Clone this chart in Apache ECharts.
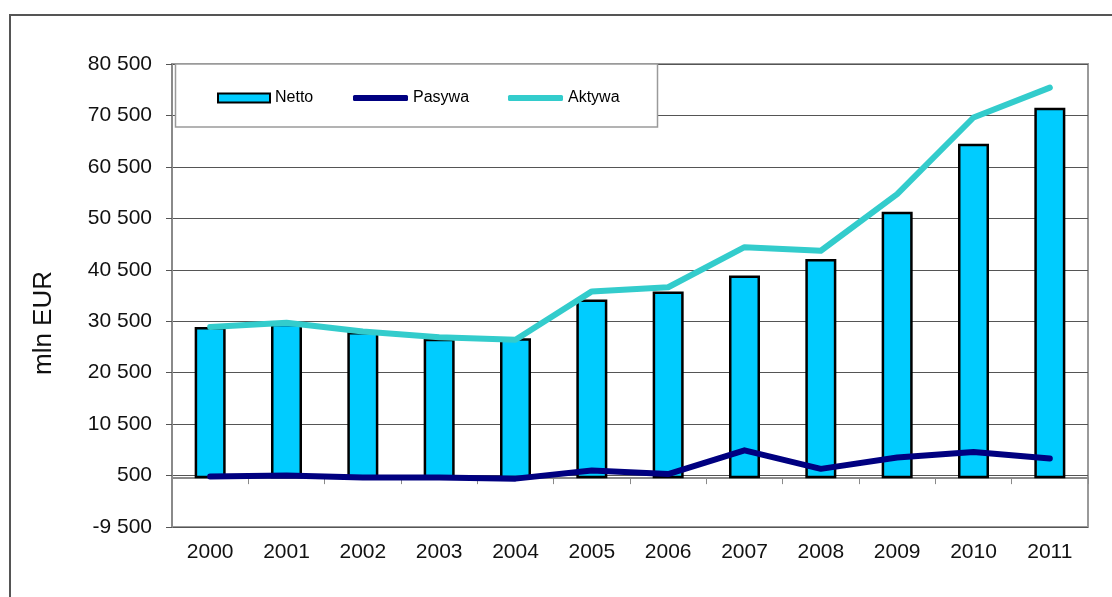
<!DOCTYPE html>
<html>
<head>
<meta charset="utf-8">
<script src="https://cdn.jsdelivr.net/npm/echarts@6/dist/echarts.min.js"></script>
<style>
html,body{margin:0;padding:0;background:#fff;}
#c{width:1112px;height:597px;}
</style>
</head>
<body>
<div id="c"></div>
<script>
const years = ['2000','2001','2002','2003','2004','2005','2006','2007','2008','2009','2010','2011'];
const netto = [29400, 30000, 28400, 27100, 27200, 34700, 36300, 39400, 42600, 51800, 65000, 72000];
const pasywa = [300, 500, 100, 100, -100, 1500, 800, 5400, 1800, 4000, 5100, 3800];
const aktywa = [29400, 30200, 28500, 27400, 26900, 36300, 37100, 44900, 44200, 55200, 70100, 75900];
const yMin = -9500, yMax = 80500, yStep = 10000;

const FONT = '"Liberation Sans", Arial, sans-serif';
function fmt(v){
  const neg = v < 0;
  let s = Math.abs(Math.round(v)).toString();
  s = s.replace(/\B(?=(\d{3})+(?!\d))/g, ' ');
  return (neg ? '-' : '') + s;
}

const chart = echarts.init(document.getElementById('c'), null, {renderer:'canvas'});
const legendText = {fontFamily: FONT, fontSize: 16, color: '#000'};
chart.setOption({
  animation: false,
  backgroundColor: '#fff',
  grid: {left: 172, right: 24, top: 64, bottom: 70, show: true, borderColor: '#9a9a9a', borderWidth: 2, backgroundColor: 'transparent'},
  legend: [
    {data: ['Netto'], left: 217, top: 90, padding: 0, icon: 'rect', itemWidth: 52, itemHeight: 9, itemGap: 0, textStyle: legendText, z: 20},
    {data: ['Pasywa'], left: 353, top: 90, padding: 0, icon: 'roundRect', itemWidth: 55, itemHeight: 6, itemGap: 0, textStyle: legendText, z: 20},
    {data: ['Aktywa'], left: 508, top: 90, padding: 0, icon: 'roundRect', itemWidth: 55, itemHeight: 6, itemGap: 0, textStyle: legendText, z: 20}
  ],
  xAxis: [
    {
      type: 'category', data: years, position: 'bottom', boundaryGap: true,
      axisLine: {show: false, onZero: false},
      axisTick: {show: false},
      axisLabel: {fontFamily: FONT, fontSize: 21, color: '#111', margin: 15},
      splitLine: {show: false}
    },
    {
      type: 'category', data: years, position: 'top', boundaryGap: true,
      axisLine: {show: true, onZero: true, lineStyle: {color: '#8a8a8a', width: 2}},
      axisTick: {show: true, inside: true, length: 6, lineStyle: {color: '#8a8a8a', width: 1}},
      axisLabel: {show: false},
      splitLine: {show: false}
    }
  ],
  yAxis: {
    type: 'value', min: yMin, max: yMax, interval: yStep,
    axisLine: {show: true, lineStyle: {color: '#8a8a8a', width: 2}},
    axisTick: {show: true, length: 6, lineStyle: {color: '#555'}},
    axisLabel: {fontFamily: FONT, fontSize: 21, color: '#111', margin: 20, formatter: fmt},
    splitLine: {show: true, lineStyle: {color: '#555', width: 1}}
  },
  graphic: [
    {type: 'rect', shape: {x: 10, y: 15, width: 1130, height: 620}, style: {fill: 'none', stroke: '#555', lineWidth: 2}, z: 1, silent: true},
    {type: 'rect', shape: {x: 175.5, y: 64, width: 482, height: 63}, style: {fill: '#fff', stroke: '#9a9a9a', lineWidth: 1.5}, z: 5, silent: true},
    {type: 'text', x: 44, y: 323, rotation: Math.PI/2, style: {text: 'mln EUR', font: '26px ' + FONT, fill: '#111', textAlign: 'center', textVerticalAlign: 'middle'}, silent: true}
  ],
  series: [
    {
      name: 'Netto', type: 'bar', data: netto, barWidth: 31, xAxisIndex: 0,
      itemStyle: {color: '#00CCFF', borderColor: '#000', borderWidth: 2.5}
    },
    {
      name: 'Pasywa', type: 'line', data: pasywa, xAxisIndex: 0, symbol: 'none',
      lineStyle: {color: '#000080', width: 6, cap: 'round', join: 'round'},
      itemStyle: {color: '#000080'}
    },
    {
      name: 'Aktywa', type: 'line', data: aktywa, xAxisIndex: 0, symbol: 'none',
      lineStyle: {color: '#33CCCC', width: 6, cap: 'round', join: 'round'},
      itemStyle: {color: '#33CCCC'}
    }
  ]
});
</script>
</body>
</html>
